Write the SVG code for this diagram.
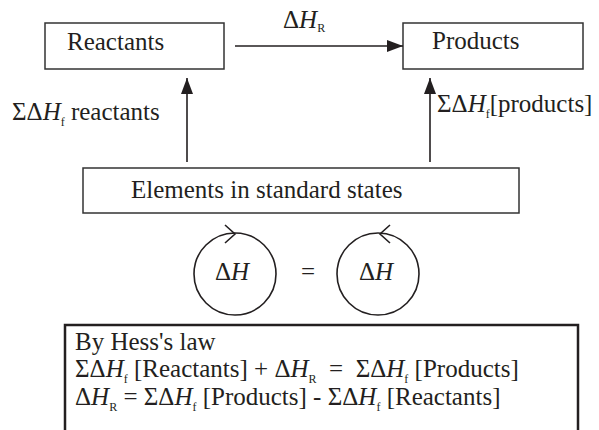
<svg xmlns="http://www.w3.org/2000/svg" width="599" height="430" viewBox="0 0 599 430">
<style>
text{font-family:"Liberation Serif",Tinos,"Times New Roman","Noto Serif","DejaVu Serif",serif;font-size:25px;fill:#231f20}
.i{font-style:italic}
.s{font-size:12px}
.box{fill:#fff;stroke:#333;stroke-width:1.5}
.ln{stroke:#231f20;stroke-width:1.6;fill:none}
</style>
<defs>
<marker id="ah" markerWidth="16" markerHeight="12" refX="16" refY="6" orient="auto" markerUnits="userSpaceOnUse">
<path d="M0,0 L16,6 L0,12 z" fill="#231f20"/>
</marker>
</defs>
<rect width="599" height="430" fill="#fff"/>
<g id="reactants"><rect class="box" x="45" y="23" width="179" height="46"/><text x="67" y="50">Reactants</text></g>
<g id="products"><rect class="box" x="403" y="23" width="180" height="46"/><text x="432" y="49">Products</text></g>
<g id="elements"><rect class="box" x="83" y="168" width="436" height="45"/><text x="131" y="198">Elements in standard states</text></g>
<g id="connectors">
<line class="ln" x1="235" y1="46" x2="403" y2="46" marker-end="url(#ah)"/>
<line class="ln" x1="187" y1="162" x2="187" y2="78" marker-end="url(#ah)"/>
<line class="ln" x1="430" y1="162" x2="430" y2="78" marker-end="url(#ah)"/>
<text x="283" y="28">Δ<tspan class="i">H</tspan><tspan class="s" dy="4">R</tspan></text>
<text x="12" y="120">ΣΔ<tspan class="i">H</tspan><tspan class="s" dy="6">f</tspan><tspan dy="-6"> reactants</tspan></text>
<text x="437" y="112">ΣΔ<tspan class="i">H</tspan><tspan class="s" dy="6">f</tspan><tspan dy="-6">[products]</tspan></text>
</g>
<g id="cycle-left">
<circle class="ln" cx="235" cy="274" r="41"/>
<path class="ln" d="M225,225 L235,234 L225,243"/>
<text x="232" y="280" text-anchor="middle">Δ<tspan class="i">H</tspan></text>
</g>
<text x="308" y="280" text-anchor="middle">=</text>
<g id="cycle-right">
<circle class="ln" cx="378" cy="274" r="41"/>
<path class="ln" d="M390,225 L380,234 L390,243"/>
<text x="376" y="280" text-anchor="middle">Δ<tspan class="i">H</tspan></text>
</g>
<g id="hess">
<rect x="65" y="325" width="513" height="115" fill="#fff" stroke="#231f20" stroke-width="2.5"/>
<text x="75" y="350">By Hess's law</text>
<text x="75" y="377" xml:space="preserve">ΣΔ<tspan class="i">H</tspan><tspan class="s" dy="6">f</tspan><tspan dy="-6"> [Reactants] + Δ</tspan><tspan class="i">H</tspan><tspan class="s" dy="6">R</tspan><tspan dy="-6">  =  ΣΔ</tspan><tspan class="i">H</tspan><tspan class="s" dy="6">f</tspan><tspan dy="-6"> [Products]</tspan></text>
<text x="75" y="405">Δ<tspan class="i">H</tspan><tspan class="s" dy="6">R</tspan><tspan dy="-6"> = ΣΔ</tspan><tspan class="i">H</tspan><tspan class="s" dy="6">f</tspan><tspan dy="-6"> [Products] - ΣΔ</tspan><tspan class="i">H</tspan><tspan class="s" dy="6">f</tspan><tspan dy="-6"> [Reactants]</tspan></text>
</g>
</svg>
